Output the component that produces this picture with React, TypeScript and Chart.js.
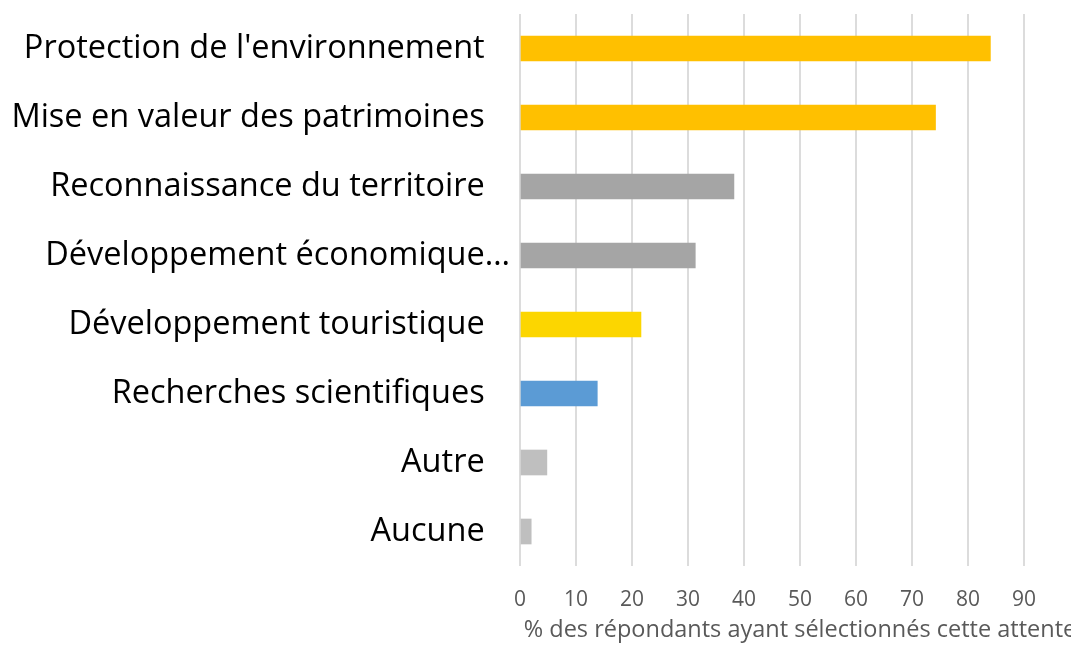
import React, { useEffect, useRef } from "react";
import { Chart, registerables } from "chart.js";
Chart.register(...registerables);

const categories = [
  "Protection de l'environnement",
  "Mise en valeur des patrimoines",
  "Reconnaissance du territoire",
  "Développement économique…",
  "Développement touristique",
  "Recherches scientifiques",
  "Autre",
  "Aucune",
];
const values = [84.0, 74.2, 38.2, 31.3, 21.6, 13.8, 4.8, 2.0];
const colors = ["#FFC000", "#FFC000", "#A5A5A5", "#A5A5A5", "#FCD600", "#5B9BD5", "#BFBFBF", "#BFBFBF"];
const xTicks = [0, 10, 20, 30, 40, 50, 60, 70, 80, 90];
const xTitle = "% des répondants ayant sélectionnés cette attente";

const FONT = "'Open Sans', 'Noto Sans', sans-serif";

export default function App() {
  const ref = useRef<HTMLCanvasElement>(null);
  useEffect(() => {
    const chart = new Chart(ref.current!, {
      type: "bar",
      data: {
        labels: categories,
        datasets: [{ data: values, backgroundColor: colors, barThickness: 25 }],
      },
      options: {
        indexAxis: "y",
        animation: false,
        responsive: false,
        layout: { padding: { top: 14, right: 40, left: 0, bottom: 0 } },
        plugins: { legend: { display: false }, tooltip: { enabled: false } },
        scales: {
          x: {
            min: 0,
            max: 100,
            afterFit: (s: any) => { s.height = 82; s.paddingLeft = 0; s.paddingRight = 0; },
            ticks: {
              stepSize: 10,
              color: "#595959",
              font: { family: FONT, size: 21 },
              padding: 21,
              maxRotation: 0,
              callback: (v: any) => (xTicks.includes(Number(v)) ? String(v) : ""),
            },
            grid: { color: "#DCDCDC", lineWidth: 2, drawTicks: false },
            border: { display: false },
            title: {
              display: true,
              text: xTitle,
              color: "#595959",
              font: { family: FONT, size: 23.5 },
              padding: { top: 0, bottom: 4 },
            },
          },
          y: {
            afterFit: (s: any) => { s.width = 520; s.paddingTop = 0; s.paddingBottom = 0; },
            grid: { display: false, drawTicks: false },
            border: { display: false },
            ticks: {
              color: "#000000",
              font: { family: FONT, size: 32.5 },
              padding: 10,
              autoSkip: false,
              callback: (_v: any, i: number) => {
                const l = categories[i];
                return l.endsWith("…") ? l : l + "   ";
              },
            },
          },
        },
      },
    });
    return () => chart.destroy();
  }, []);
  return (
    <div style={{ position: "fixed", left: 0, top: 0, width: 1071, height: 648, overflow: "hidden", background: "#fff" }}>
      <canvas ref={ref} width={1120} height={648} style={{ display: "block" }} />
    </div>
  );
}
